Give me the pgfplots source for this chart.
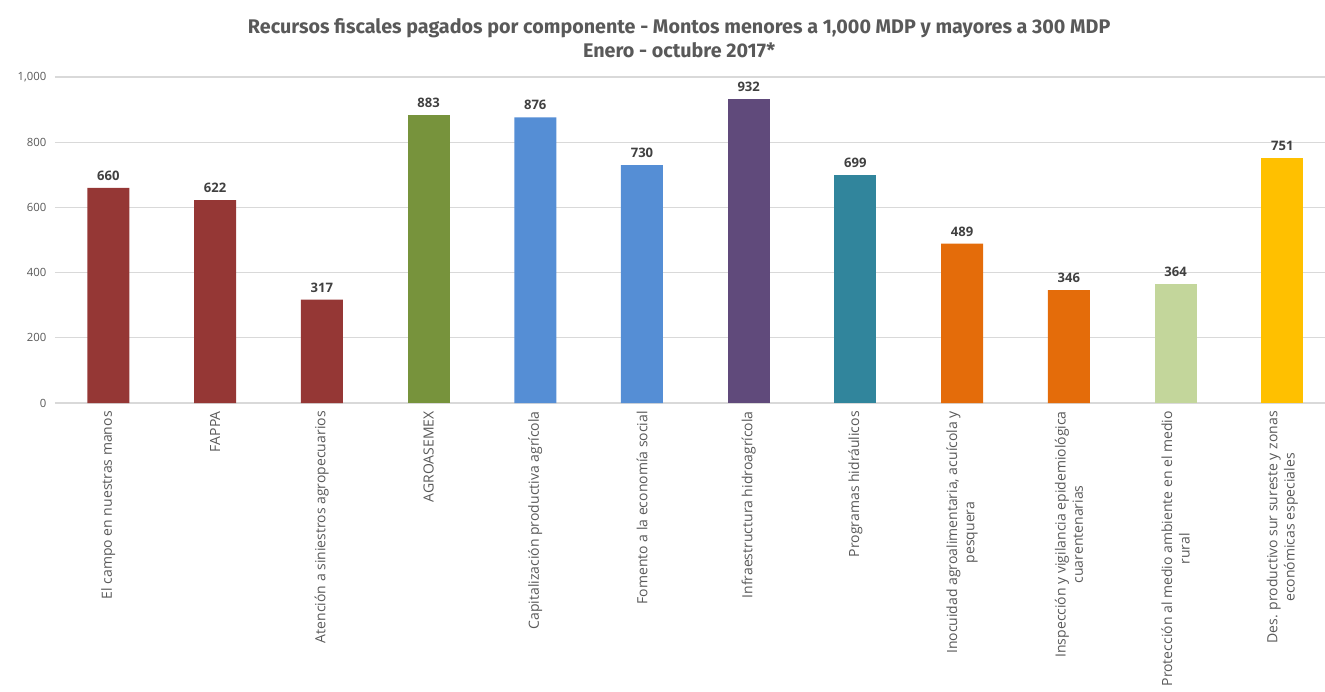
\documentclass[border=0pt]{standalone}
\usepackage{pgfplots}
\pgfplotsset{compat=1.18}
\usepackage{fontspec}
\setmainfont{Open Sans}
\newfontfamily\titlefont{Fira Sans}
\definecolor{cRed}{HTML}{953735}
\definecolor{cGreen}{HTML}{77933C}
\definecolor{cBlue}{HTML}{558ED5}
\definecolor{cPurple}{HTML}{604A7B}
\definecolor{cTeal}{HTML}{31859C}
\definecolor{cOrange}{HTML}{E46C0A}
\definecolor{cLight}{HTML}{C3D69B}
\definecolor{cGold}{HTML}{FFC000}
\definecolor{gridgray}{HTML}{D9D9D9}
\definecolor{labgray}{HTML}{595959}
\definecolor{valgray}{HTML}{404040}
\begin{document}
\begin{tikzpicture}
\begin{axis}[
  scale only axis, width=952.5pt, height=244.5pt,
  xmin=-0.5, xmax=11.4, ymin=0, ymax=1000,
  ybar, bar width=31.5pt, bar shift=0pt,
  ytick={0,200,...,1000},
  xtick={0,...,11},
  xticklabels={
    El campo en nuestras manos,
    FAPPA,
    Atención a siniestros agropecuarios,
    AGROASEMEX,
    Capitalización productiva agrícola,
    Fomento a la economía social,
    Infraestructura hidroagrícola,
    Programas hidráulicos,
    {Inocuidad agroalimentaria, acuícola y\\pesquera},
    {Inspección y vigilancia epidemiológica\\cuarentenarias},
    {Protección al medio ambiente en el medio\\rural},
    {Des. productivo sur sureste y zonas\\económicas especiales}},
  x tick label style={rotate=90, anchor=east, align=center,
    font=\fontsize{10.5}{13}\selectfont, text=labgray, inner sep=0pt, yshift=0pt, xshift=-6pt},
  y tick label style={font=\fontsize{8.5}{10}\selectfont, text=labgray, xshift=-3pt},
  /pgf/number format/assume math mode=true,
  /pgf/number format/1000 sep={,},
  major tick length=0pt,
  axis line style={draw=none},
  ymajorgrids, grid style={draw=gridgray, line width=0.8pt},
  clip=false,
  nodes near coords,
  nodes near coords style={font=\bfseries\fontsize{9.8}{11}\selectfont, text=valgray, yshift=2pt},
  title={Recursos fiscales pagados por componente - Montos menores a 1,000 MDP y mayores a 300 MDP\\Enero - octubre 2017*},
  title style={at={(axis description cs:0.4915,1)}, anchor=south, align=center,
    font=\titlefont\bfseries\fontsize{14.8}{17.5}\selectfont, text=labgray, yshift=5pt},
]
\addplot[fill=cRed, draw=none] coordinates {(0,660) (1,622) (2,317)};
\addplot[fill=cGreen, draw=none] coordinates {(3,883)};
\addplot[fill=cBlue, draw=none] coordinates {(4,876) (5,730)};
\addplot[fill=cPurple, draw=none] coordinates {(6,932)};
\addplot[fill=cTeal, draw=none] coordinates {(7,699)};
\addplot[fill=cOrange, draw=none] coordinates {(8,489) (9,346)};
\addplot[fill=cLight, draw=none] coordinates {(10,364)};
\addplot[fill=cGold, draw=none] coordinates {(11,751)};
\end{axis}
\pgfresetboundingbox
\path (-41.25pt,-216.5pt) rectangle (952.5pt,302.25pt);
\end{tikzpicture}
\end{document}
